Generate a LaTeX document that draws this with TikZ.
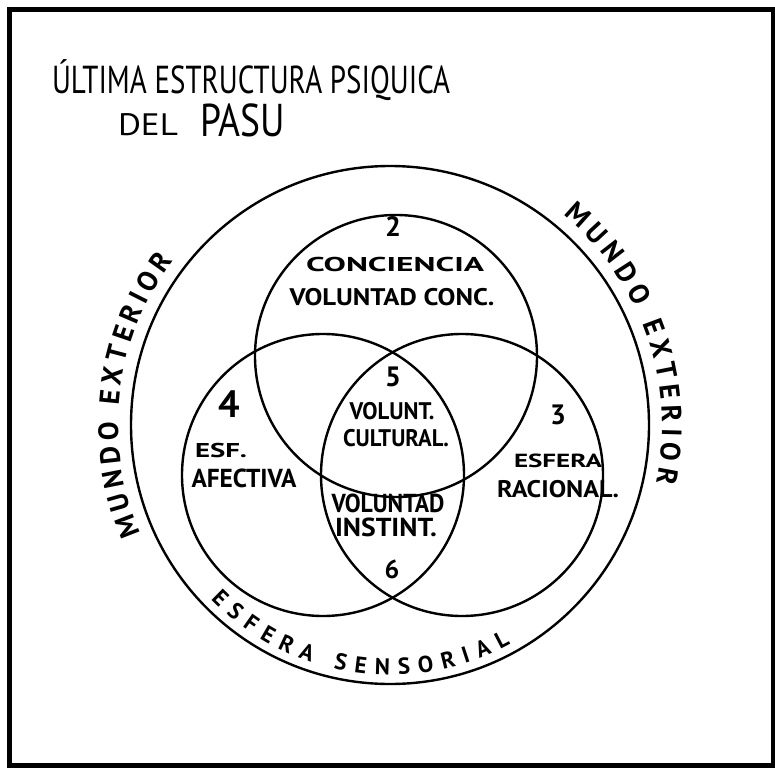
\documentclass[tikz,border=0pt]{standalone}
\usepackage{fontspec}
\setmainfont{PT Sans}
\usetikzlibrary{decorations.text}
\newcommand{\fitw}[3]{\resizebox{#2pt}{\height}{\fontsize{#1}{#1}\selectfont #3}}
\newcommand{\fs}[2]{{\fontsize{#1}{#1}\selectfont #2}}
\begin{document}
\begin{tikzpicture}[x=1pt,y=1pt,
  lbl/.style={inner sep=0pt, outer sep=0pt, anchor=center, font=\bfseries},
  ttl/.style={inner sep=0pt, outer sep=0pt, anchor=base west},
  ring/.style={draw, circle, line width=2.4pt, inner sep=0pt},
  arctext/.style={decorate, decoration={text along path, text align={fit to path}, text={#1}}}]
\useasboundingbox (0,0) rectangle (775,-767);
\fill[white] (0,0) rectangle (775,-767);
\draw[line width=5pt] (9,-10) rectangle (773,-765);

% title
\node[ttl] (t1) at (52,-94) {\fitw{39}{398}{ÚLTIMA ESTRUCTURA PSIQUICA}};
\node[ttl] (t2) at (118,-136) {\fitw{31}{60}{DEL}};
\node[ttl] (t3) at (200,-137) {\fitw{46}{85}{PASU}};

% circles
\node[ring, minimum size=518pt] (big) at (390,-425) {};
\node[ring, minimum size=282pt] (ctop) at (396,-356) {};
\node[ring, minimum size=282pt] (cleft) at (323,-475) {};
\node[ring, minimum size=282pt] (cright) at (462,-475) {};

% curved texts
\path[arctext={|\fontsize{28}{28}\selectfont\bfseries|MUNDO EXTERIOR}]
  (big.center) ++(203.5:272) arc[start angle=203.5, end angle=142.8, radius=272];
\path[arctext={|\fontsize{28}{28}\selectfont\bfseries|MUNDO EXTERIOR}]
  (big.center) ++(50.5:272) arc[start angle=50.5, end angle=-12.2, radius=272];
\path[arctext={|\fontsize{23}{23}\selectfont\bfseries|ESFERA SENSORIAL}]
  (big.center) ++(224.2:250) arc[start angle=224.2, end angle=298.8, radius=250];

% region labels
\node[lbl] (n2) at (393,-227) {\fs{28}{2}};
\node[lbl] (conc) at (395,-264) {\fitw{20}{178}{CONCIENCIA}};
\node[lbl] (volc) at (392,-297) {\fitw{24}{205}{VOLUNTAD CONC.}};
\node[lbl] (n5) at (393,-377) {\fs{28}{5}};
\node[lbl] (volu) at (392,-411) {\fitw{24}{85}{VOLUNT.}};
\node[lbl] (cult) at (396,-438) {\fitw{24}{106}{CULTURAL.}};
\node[lbl] (n4) at (229,-404) {\fs{38}{4}};
\node[lbl] (esf) at (221,-450) {\fitw{20}{52}{ESF.}};
\node[lbl] (afec) at (244,-478) {\fitw{26}{105}{AFECTIVA}};
\node[lbl] (voli) at (388,-503) {\fitw{26}{113}{VOLUNTAD}};
\node[lbl] (inst) at (386,-527) {\fitw{26}{102}{INSTINT.}};
\node[lbl] (n6) at (392,-569) {\fs{26}{6}};
\node[lbl] (n3) at (558,-415) {\fs{28}{3}};
\node[lbl] (esfe) at (558,-461) {\fitw{19}{88}{ESFERA}};
\node[lbl] (raci) at (558,-489) {\fitw{24}{122}{RACIONAL.}};
\end{tikzpicture}
\end{document}
